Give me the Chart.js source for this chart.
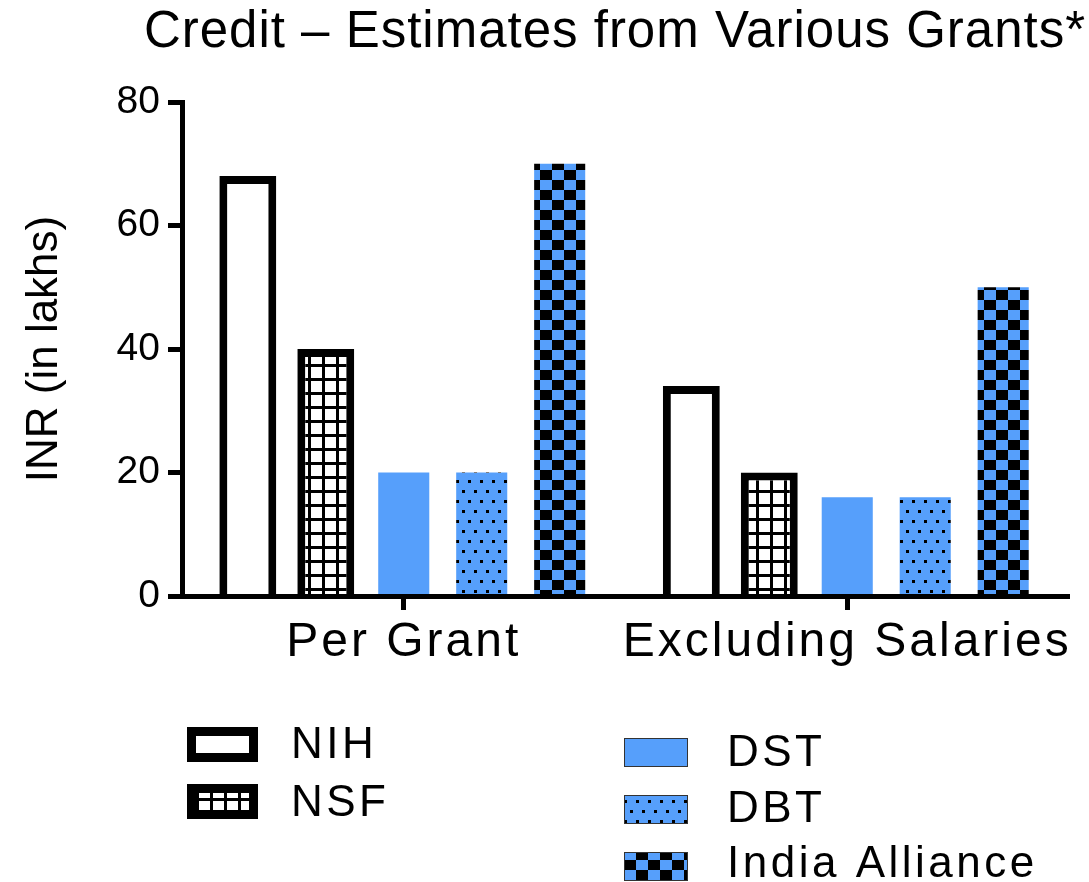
<!DOCTYPE html>
<html>
<head>
<meta charset="utf-8">
<script src="https://cdn.jsdelivr.net/npm/chart.js@4"></script>
<style>
  html, body { margin: 0; background: #fff; }
</style>
</head>
<body>
<canvas id="grantChart" width="1089" height="882" style="width:1089px;height:882px"></canvas>
<script>
const groups = ["Per Grant", "Excluding Salaries"];
const agencies = ["NIH", "NSF", "DST", "DBT", "India Alliance"];
const nihValues = [68, 34];
const nsfValues = [40, 20];
const dstValues = [20, 16];
const dbtValues = [20, 16];
const allianceValues = [70, 50];
const yMax = 80;
const yStep = 20;
const chartTitle = "Credit \u2013 Estimates from Various Grants*";
const yTitle = "INR (in lakhs)";

const blue = "#569ffb";
const font = "'Liberation Sans', Arial, Helvetica, sans-serif";

const ctx = document.getElementById("grantChart").getContext("2d");

function makePattern(w, h, paint) {
  const tile = document.createElement("canvas");
  tile.width = w;
  tile.height = h;
  paint(tile.getContext("2d"));
  return ctx.createPattern(tile, "repeat");
}

// white squares with black grid lines (NSF)
const gridPattern = makePattern(14, 14, (g) => {
  g.fillStyle = "#fff";
  g.fillRect(0, 0, 14, 14);
  g.fillStyle = "#000";
  g.fillRect(0, 0, 3, 14);
  g.fillRect(0, 0, 14, 3);
});

// blue with staggered black dots (DBT)
const dotPattern = makePattern(12, 20, (g) => {
  g.fillStyle = blue;
  g.fillRect(0, 0, 12, 20);
  g.fillStyle = "#000";
  g.fillRect(0, 0, 3, 3);
  g.fillRect(6, 10, 3, 3);
});

// blue / black checkerboard (India Alliance)
const checkPattern = makePattern(24, 20, (g) => {
  g.fillStyle = blue;
  g.fillRect(0, 0, 24, 20);
  g.fillStyle = "#000";
  g.fillRect(0, 0, 12, 10);
  g.fillRect(12, 10, 12, 10);
});

// legend swatch boxes and text anchors, two columns
const legendBoxes = [
  { x: 187, y: 727, w: 71, h: 35, tx: 291, ty: 758 },
  { x: 187, y: 784, w: 71, h: 35, tx: 291, ty: 816 },
  { x: 624, y: 738, w: 64, h: 29, tx: 727, ty: 766 },
  { x: 624, y: 795, w: 64, h: 29, tx: 727, ty: 822 },
  { x: 624, y: 852, w: 64, h: 29, tx: 727, ty: 877 },
];

const overlay = {
  id: "overlay",
  afterDatasetsDraw(chart) {
    // x tick labels are drawn after the datasets (ticks z: 1)
    chart.ctx.letterSpacing = "3px";
  },
  afterDraw(chart) {
    const c = chart.ctx;
    c.save();
    c.fillStyle = "#000";
    c.letterSpacing = "1px";
    c.font = "51px " + font;
    c.textAlign = "center";
    c.textBaseline = "alphabetic";
    c.fillText(chartTitle, 615, 47);

    c.letterSpacing = "3.5px";
    c.font = "44px " + font;
    c.textAlign = "left";
    chart.data.datasets.forEach((ds, i) => {
      const b = legendBoxes[i];
      c.fillStyle = ds.backgroundColor;
      c.fillRect(b.x, b.y, b.w, b.h);
      if (ds.borderWidth) {
        c.strokeStyle = ds.borderColor;
        c.lineWidth = 9;
        c.strokeRect(b.x + 4.5, b.y + 4.5, b.w - 9, b.h - 9);
      } else {
        c.strokeStyle = "#333";
        c.lineWidth = 1;
        c.strokeRect(b.x + 0.5, b.y + 0.5, b.w - 1, b.h - 1);
      }
      c.fillStyle = "#000";
      c.fillText(ds.label, b.tx, b.ty);
    });
    c.restore();
    c.letterSpacing = "0px";
  },
};

new Chart(ctx, {
  type: "bar",
  data: {
    labels: groups,
    datasets: [
      {
        label: agencies[0],
        data: nihValues,
        backgroundColor: "#fff",
        borderColor: "#000",
        borderWidth: 8,
        barPercentage: 0.73,
      },
      {
        label: agencies[1],
        data: nsfValues,
        backgroundColor: gridPattern,
        borderColor: "#000",
        borderWidth: 8,
        barPercentage: 0.73,
      },
      {
        label: agencies[2],
        data: dstValues,
        backgroundColor: blue,
        borderWidth: 0,
        barPercentage: 0.655,
      },
      {
        label: agencies[3],
        data: dbtValues,
        backgroundColor: dotPattern,
        borderWidth: 0,
        barPercentage: 0.655,
      },
      {
        label: agencies[4],
        data: allianceValues,
        backgroundColor: checkPattern,
        borderWidth: 0,
        barPercentage: 0.655,
      },
    ],
  },
  options: {
    responsive: false,
    animation: false,
    datasets: {
      bar: { categoryPercentage: 0.879 },
    },
    layout: {
      padding: { top: 102, right: 20, bottom: 206, left: 0 },
    },
    plugins: {
      legend: { display: false },
      tooltip: { enabled: false },
    },
    scales: {
      x: {
        grid: {
          drawOnChartArea: false,
          offset: false,
          tickLength: 14,
          tickWidth: 5,
          tickColor: "#000",
        },
        border: { color: "#000", width: 5, z: 1 },
        ticks: {
          color: "#000",
          font: { family: font, size: 48 },
          padding: 4,
          z: 1,
          maxRotation: 0,
          autoSkip: false,
        },
        afterFit: (s) => { s.height = 80; },
      },
      y: {
        min: 0,
        max: yMax,
        grid: {
          drawOnChartArea: false,
          tickLength: 14,
          tickWidth: 5,
          tickColor: "#000",
        },
        border: { color: "#000", width: 5, z: 1 },
        ticks: {
          stepSize: yStep,
          color: "#000",
          font: { family: font, size: 39 },
          padding: 8,
        },
        title: {
          display: true,
          text: yTitle,
          color: "#000",
          font: { family: font, size: 44 },
          padding: { top: 18, bottom: 0 },
        },
        afterFit: (s) => { s.width = 182; },
      },
    },
  },
  plugins: [overlay],
});
</script>
</body>
</html>
